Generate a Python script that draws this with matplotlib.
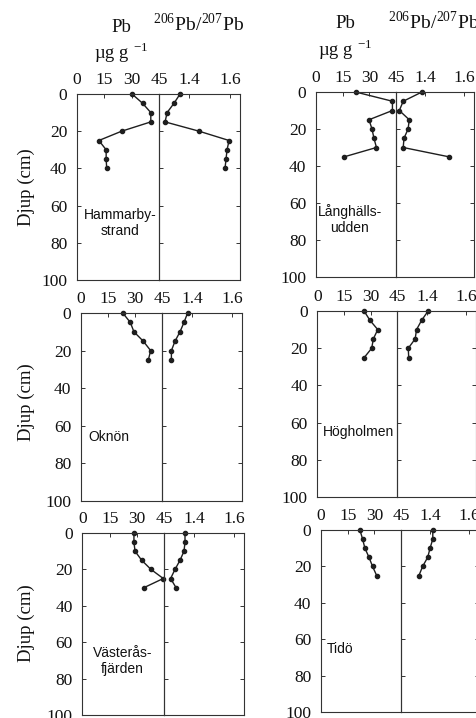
import matplotlib
matplotlib.use("Agg")
import matplotlib.pyplot as plt

plt.rcParams["font.family"] = ["Liberation Serif", "DejaVu Serif"]
plt.rcParams["mathtext.fontset"] = "stix"

W, H = 477, 718

# Sampling depths (cm) for each core
depth_hammarby = [0, 5, 10, 15, 20, 25, 30, 35, 40]
depth_langhall = [0, 5, 10, 15, 20, 25, 30, 35]
depth_oknon = [0, 5, 10, 15, 20, 25]
depth_hogholmen = [0, 5, 10, 15, 20, 25]
depth_vasteras = [0, 5, 10, 15, 20, 25, 30]
depth_tido = [0, 5, 10, 15, 20, 25]

# Pb concentration (ug/g)
pb_hammarby = [30.2, 36.0, 40.5, 40.5, 24.5, 12.0, 16.0, 16.0, 16.3]
pb_langhall = [22.3, 43.0, 43.0, 29.8, 31.5, 32.6, 34.0, 16.0]
pb_oknon = [23.2, 27.4, 29.4, 34.6, 38.7, 37.4]
pb_hogholmen = [26.2, 29.5, 33.9, 31.4, 30.5, 26.3]
pb_vasteras = [28.4, 28.4, 29.0, 32.7, 37.8, 44.6, 34.0]
pb_tido = [21.9, 23.4, 24.7, 27.0, 29.0, 31.3]

# 206Pb/207Pb isotope ratio
ratio_hammarby = [1.354, 1.324, 1.290, 1.280, 1.448, 1.596, 1.586, 1.581, 1.576]
ratio_langhall = [1.383, 1.287, 1.267, 1.318, 1.312, 1.291, 1.287, 1.520]
ratio_oknon = [1.378, 1.360, 1.340, 1.315, 1.297, 1.297]
ratio_hogholmen = [1.406, 1.373, 1.347, 1.340, 1.305, 1.307]
ratio_vasteras = [1.355, 1.355, 1.350, 1.330, 1.305, 1.283, 1.310]
ratio_tido = [1.413, 1.413, 1.399, 1.387, 1.361, 1.342]

site_names = ["Hammarby-\nstrand", "Långhälls-\nudden", "Oknön",
              "Högholmen", "Västerås-\nfjärden", "Tidö"]

pb_ticks = [0, 15, 30, 45]
ratio_ticks = [1.4, 1.6]
depth_ticks = [0, 20, 40, 60, 80, 100]

panels = [
    (depth_hammarby, pb_hammarby, ratio_hammarby),
    (depth_langhall, pb_langhall, ratio_langhall),
    (depth_oknon, pb_oknon, ratio_oknon),
    (depth_hogholmen, pb_hogholmen, ratio_hogholmen),
    (depth_vasteras, pb_vasteras, ratio_vasteras),
    (depth_tido, pb_tido, ratio_tido),
]

# panel frames in pixels: left edge, divider, right edge, top, bottom
frames = [
    (77, 159, 240, 94, 280),
    (316, 396, 474, 92, 277),
    (81, 162, 242, 313, 501),
    (317.5, 397.5, 476, 311, 497),
    (82.5, 164, 244, 533, 715),
    (321, 401, 479, 530, 712),
]

# site label placement (Pb units, depth, alignment)
label_pos = [
    (23.6, 69.5, "center"),
    (19.0, 69.0, "center"),
    (4.0, 66.0, "left"),
    (3.0, 65.0, "left"),
    (22.0, 70.5, "center"),
    (3.0, 65.5, "left"),
]

fig = plt.figure(figsize=(W / 100, H / 100), dpi=100)

ink = "#1e1e1e"
tick_font = 12.5


def rect(x0, x1, top, bot):
    return [x0 / W, 1 - bot / H, (x1 - x0) / W, (bot - top) / H]


def style(ax):
    ax.patch.set_visible(False)
    for s in ax.spines.values():
        s.set_linewidth(0.8)
        s.set_color("#333333")
    ax.tick_params(which="both", direction="in", length=3, width=0.7,
                   colors="#333333", labelcolor="#111111",
                   labelsize=tick_font)


for i, ((d, pb, rt), (xl, xm, xr, yt, yb), name, lp) in enumerate(
        zip(panels, frames, site_names, label_pos)):
    ax_pb = fig.add_axes(rect(xl, xm, yt, yb))
    ax_rt = fig.add_axes(rect(xm, xr, yt, yb))
    for ax in (ax_pb, ax_rt):
        ax.set_ylim(100, 0)
        ax.set_yticks(depth_ticks)
        ax.xaxis.tick_top()
        style(ax)
    ax_pb.set_xlim(0, 45)
    ax_pb.set_xticks(pb_ticks)
    ax_pb.tick_params(axis="x", pad=4)
    ax_pb.tick_params(axis="y", pad=7, right=False)
    ax_rt.set_xlim(1.25, 1.65)
    ax_rt.set_xticks(ratio_ticks)
    ax_rt.set_xticklabels(["1.4", "1.6"])
    ax_rt.tick_params(axis="x", pad=4)
    ax_rt.tick_params(axis="y", left=True, right=True, labelleft=False)

    ax_pb.plot(pb, d, color=ink, lw=1.0, marker="o", ms=3, clip_on=False)
    ax_rt.plot(rt, d, color=ink, lw=1.0, marker="o", ms=3, clip_on=False)

    ax_pb.text(lp[0], lp[1], name, ha=lp[2], va="center",
               multialignment="center", fontsize=10,
               family=["Liberation Sans", "DejaVu Sans"], color="#111111")

# depth axis titles for the left column
for yc in (187, 402, 623):
    fig.text(26 / W, 1 - yc / H, "Djup (cm)", rotation=90, ha="center",
             va="center", fontsize=13.5, color="#111111")

# column headers
for xc_pb, y_pb, y_unit, x_ratio, y_ratio in ((121, 28, 53, 153, 24),
                                                (345, 23, 50, 388, 22)):
    fig.text(xc_pb / W, 1 - y_pb / H, "Pb", ha="center", va="center",
             fontsize=13.5, color="#111111")
    fig.text(xc_pb / W, 1 - y_unit / H, r"µg g $^{\mathregular{-1}}$",
             ha="center", va="center", fontsize=13.5, color="#111111")
    fig.text(x_ratio / W, 1 - y_ratio / H,
             r"$^{\mathregular{206}}$Pb/$^{\mathregular{207}}$Pb",
             ha="left", va="center", fontsize=14, color="#111111")

fig.savefig("out.png", dpi=100, facecolor="white")
